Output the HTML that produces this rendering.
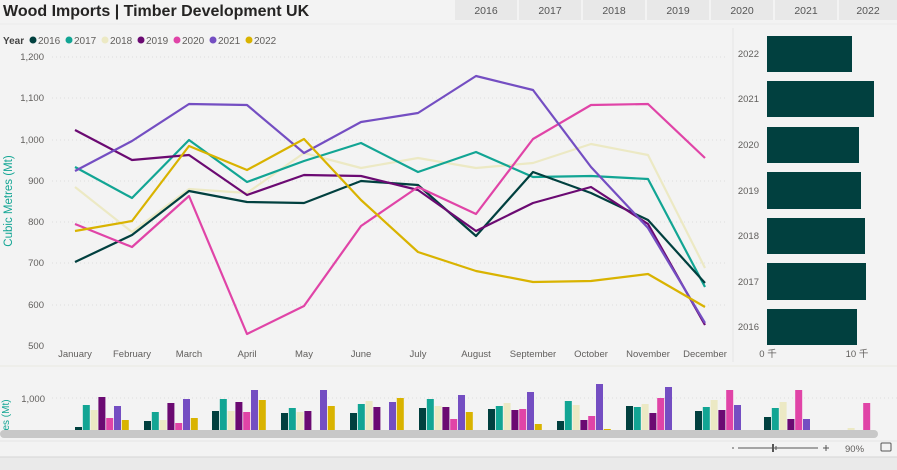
<!DOCTYPE html>
<html><head><meta charset="utf-8"><style>
body{margin:0;width:897px;height:470px;background:#f3f3f3;overflow:hidden;font-family:"Liberation Sans",sans-serif;}
svg{position:absolute;left:0;top:0}
</style></head><body>
<svg width="897" height="470" viewBox="0 0 897 470" xmlns="http://www.w3.org/2000/svg" font-family="Liberation Sans, sans-serif">
<rect width="897" height="470" fill="#f3f3f3"/>
<text x="3" y="16" font-size="16" font-weight="bold" fill="#252423">Wood Imports | Timber Development UK</text>
<g font-size="10.5" fill="#555" text-anchor="middle">
<rect x="455" y="0" width="62" height="20" fill="#e8e8e8"/><text x="486" y="14">2016</text>
<rect x="519" y="0" width="62" height="20" fill="#e8e8e8"/><text x="550" y="14">2017</text>
<rect x="583" y="0" width="62" height="20" fill="#e8e8e8"/><text x="614" y="14">2018</text>
<rect x="647" y="0" width="62" height="20" fill="#e8e8e8"/><text x="678" y="14">2019</text>
<rect x="711" y="0" width="62" height="20" fill="#e8e8e8"/><text x="742" y="14">2020</text>
<rect x="775" y="0" width="62" height="20" fill="#e8e8e8"/><text x="806" y="14">2021</text>
<rect x="839" y="0" width="58" height="20" fill="#e8e8e8"/><text x="868" y="14">2022</text>
</g>
<line x1="0" y1="24" x2="897" y2="24" stroke="#ebebeb"/>
<!-- legend -->
<g font-size="10" fill="#605e5c">
<text x="3" y="44" font-weight="bold" fill="#444">Year</text>
<circle cx="33" cy="40" r="3.5" fill="#01403f"/><text x="38" y="44">2016</text>
<circle cx="69" cy="40" r="3.5" fill="#12a594"/><text x="74" y="44">2017</text>
<circle cx="105" cy="40" r="3.5" fill="#ece9c4"/><text x="110" y="44">2018</text>
<circle cx="141" cy="40" r="3.5" fill="#6b0a72"/><text x="146" y="44">2019</text>
<circle cx="177" cy="40" r="3.5" fill="#e044a7"/><text x="182" y="44">2020</text>
<circle cx="213" cy="40" r="3.5" fill="#744ec2"/><text x="218" y="44">2021</text>
<circle cx="249" cy="40" r="3.5" fill="#d9b300"/><text x="254" y="44">2022</text>
</g>
<!-- grid -->
<g stroke="#dcdcdc" stroke-dasharray="1,3">
<line x1="52" y1="57" x2="728" y2="57"/><line x1="52" y1="98" x2="728" y2="98"/>
<line x1="52" y1="140" x2="728" y2="140"/><line x1="52" y1="181" x2="728" y2="181"/>
<line x1="52" y1="222" x2="728" y2="222"/><line x1="52" y1="263" x2="728" y2="263"/>
<line x1="52" y1="305" x2="728" y2="305"/>
</g>
<g font-size="9.5" fill="#605e5c" text-anchor="end">
<text x="44" y="60">1,200</text><text x="44" y="101">1,100</text><text x="44" y="143">1,000</text>
<text x="44" y="184">900</text><text x="44" y="225">800</text><text x="44" y="266">700</text>
<text x="44" y="308">600</text><text x="44" y="349">500</text>
</g>
<text transform="translate(12,201) rotate(-90)" font-size="11.5" fill="#12a594" text-anchor="middle">Cubic Metres (Mt)</text>
<g font-size="9.5" fill="#605e5c" text-anchor="middle">
<text x="75" y="357">January</text><text x="132" y="357">February</text><text x="189" y="357">March</text>
<text x="247" y="357">April</text><text x="304" y="357">May</text><text x="361" y="357">June</text>
<text x="418" y="357">July</text><text x="476" y="357">August</text><text x="533" y="357">September</text>
<text x="591" y="357">October</text><text x="648" y="357">November</text><text x="705" y="357">December</text>
</g>
<g fill="none" stroke-width="2.2" stroke-linejoin="round">
<polyline stroke="#ece9c4" points="75,187 132,232 189,189 247,193 304,153 361,168 418,158 476,168 533,163 591,144 648,155 705,268"/>
<polyline stroke="#12a594" points="75,167 132,198 189,140 247,182 304,161 361,143 418,172 476,152 533,177 591,176 648,179 705,287"/>
<polyline stroke="#01403f" points="75,262 132,235 189,191 247,202 304,203 361,181 418,185 476,236 533,172 591,193 648,220 705,283"/>
<polyline stroke="#6b0a72" points="75,130 132,160 189,155 247,195 304,175 361,176 418,190 476,231 533,203 591,187 648,224 705,325"/>
<polyline stroke="#e044a7" points="75,224 132,247 189,196 247,334 304,306 361,226 418,187 476,214 533,139 591,105 648,104 705,158"/>
<polyline stroke="#744ec2" points="75,171 132,141 189,104 247,105 304,153 361,122 418,113 476,76 533,90 591,167 648,228 705,323"/>
<polyline stroke="#d9b300" points="75,231 132,221 189,146 247,170 304,139 361,200 418,252 476,271 533,282 591,281 648,274 705,307"/>
</g>
<!-- right panel -->
<line x1="733" y1="28" x2="733" y2="362" stroke="#e6e6e6"/>
<g fill="#01403f">
<rect x="767" y="36" width="85" height="36"/><rect x="767" y="81" width="107" height="36"/>
<rect x="767" y="127" width="92" height="36"/><rect x="767" y="172" width="94" height="37"/>
<rect x="767" y="218" width="98" height="36"/><rect x="767" y="263" width="99" height="37"/>
<rect x="767" y="309" width="90" height="36"/>
</g>
<g font-size="9.5" fill="#605e5c" text-anchor="end">
<text x="759" y="57">2022</text><text x="759" y="102">2021</text><text x="759" y="148">2020</text>
<text x="759" y="194">2019</text><text x="759" y="239">2018</text><text x="759" y="285">2017</text><text x="759" y="330">2016</text>
</g>
<g font-size="9.5" fill="#605e5c" text-anchor="middle"><text x="768" y="357">0 千</text><text x="857" y="357">10 千</text></g>
<line x1="0" y1="366" x2="897" y2="366" stroke="#e9e9e2"/>
<!-- bottom -->
<line x1="52" y1="398" x2="897" y2="398" stroke="#dcdcdc" stroke-dasharray="1,3"/>
<text x="45" y="402" font-size="9.5" fill="#605e5c" text-anchor="end">1,000</text>
<text transform="translate(9,415) rotate(-90)" font-size="10" fill="#12a594" text-anchor="middle">es (Mt)</text>
<g id="bars"></g>
<rect x="0" y="430" width="878" height="8" rx="4" fill="#c8c8c8"/>
<line x1="0" y1="441" x2="897" y2="441" stroke="#e6e6e6"/>
<g stroke="#555" fill="none"><line x1="738" y1="448" x2="818" y2="448"/><line x1="773" y1="444" x2="773" y2="452" stroke-width="2"/><line x1="776" y1="446" x2="776" y2="450"/><line x1="732" y1="448" x2="734" y2="448"/><line x1="823" y1="448" x2="829" y2="448"/><line x1="826" y1="445" x2="826" y2="451"/><rect x="881" y="443" width="10" height="8" rx="1"/></g>
<text x="845" y="452" font-size="9.5" fill="#605e5c">90%</text>
<rect x="0" y="457" width="897" height="13" fill="#eaeaea"/>
<line x1="0" y1="457" x2="897" y2="457" stroke="#d6d6d6"/>
</svg>
<script>
var c=["#01403f","#12a594","#ece9c4","#6b0a72","#e044a7","#744ec2","#d9b300"];
var g=[[75,[427,405,410,397,418,406,420]],[144,[421,412,420,403,423,399,418]],[212,[411,399,411,402,412,390,400]],[281,[413,408,412,411,0,390,406]],[350,[413,404,401,407,0,402,398]],[419,[408,399,406,407,419,395,412]],[488,[409,406,403,410,409,392,424]],[557,[421,401,405,420,416,384,429]],[626,[406,407,404,413,398,387,0]],[695,[411,407,400,410,390,405,0]],[764,[417,408,402,419,390,419,0]],[832,[0,0,428,0,403,0,0]]];
var s="";g.forEach(function(a){a[1].forEach(function(t,i){if(t)s+='<rect x="'+(a[0]+i*7.8)+'" y="'+t+'" width="7" height="'+(430-t)+'" fill="'+c[i]+'"/>';});});
document.getElementById("bars").innerHTML=s;
</script>
</body></html>
